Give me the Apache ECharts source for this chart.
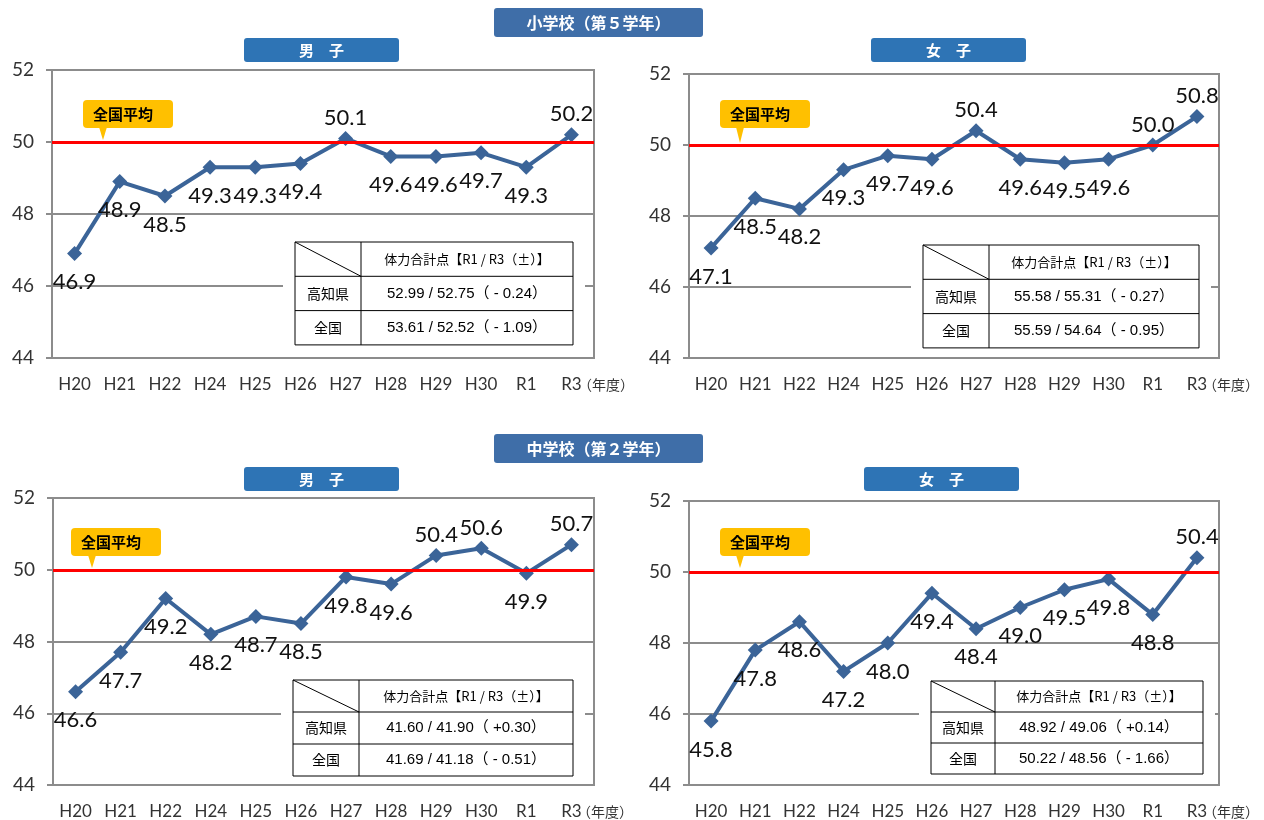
<!DOCTYPE html>
<html>
<head>
<meta charset="utf-8">
<script src="https://cdn.jsdelivr.net/npm/echarts@6/dist/echarts.min.js"></script>
<style>
html,body{margin:0;padding:0;background:#fff;}
#main{width:1264px;height:820px;}
</style>
</head>
<body>
<div id="main"></div>
<script>
// 年度
var years = ['H20', 'H21', 'H22', 'H24', 'H25', 'H26', 'H27', 'H28', 'H29', 'H30', 'R1', 'R3'];
// 体力合計点 T得点
var esBoys  = [46.9, 48.9, 48.5, 49.3, 49.3, 49.4, 50.1, 49.6, 49.6, 49.7, 49.3, 50.2];
var esGirls = [47.1, 48.5, 48.2, 49.3, 49.7, 49.6, 50.4, 49.6, 49.5, 49.6, 50.0, 50.8];
var jhBoys  = [46.6, 47.7, 49.2, 48.2, 48.7, 48.5, 49.8, 49.6, 50.4, 50.6, 49.9, 50.7];
var jhGirls = [45.8, 47.8, 48.6, 47.2, 48.0, 49.4, 48.4, 49.0, 49.5, 49.8, 48.8, 50.4];
var yMin = 44, yMax = 52, yStep = 2;
var nationalAvg = 50;

// 表
var tableHead = '体力合計点【R1 / R3（±）】';
var tableRows = ['高知県', '全国'];
var esBoysTable  = ['52.99 / 52.75（ - 0.24）', '53.61 / 52.52（ - 1.09）'];
var esGirlsTable = ['55.58 / 55.31（ - 0.27）', '55.59 / 54.64（ - 0.95）'];
var jhBoysTable  = ['41.60 / 41.90（ +0.30）', '41.69 / 41.18（ - 0.51）'];
var jhGirlsTable = ['48.92 / 49.06（ +0.14）', '50.22 / 48.56（ - 1.66）'];

var myChart = echarts.init(document.getElementById('main'));

var LINE = '#3B6498';
var GRAY = '#8c8c8c';
var FONT = 'Lato, "Noto Sans CJK JP", sans-serif';
var CJK = '"Noto Sans CJK JP", sans-serif';

//4つのパネル
var panels = [
	{ data: esBoys, grid: { left: 52, top: 70, width: 542, height: 288 },
	  table: { x: 295, y: 242, w1: 66, w2: 212, h: 34.3, vals: esBoysTable },
	  callout: { x: 83, y: 100, px: 103, tip: 140 }, unit: { x: 578, y: 385 } },
	{ data: esGirls, grid: { left: 689, top: 74, width: 530, height: 284 },
	  table: { x: 923, y: 245, w1: 66, w2: 210, h: 34.3, vals: esGirlsTable },
	  callout: { x: 720, y: 100, px: 740, tip: 143 }, unit: { x: 1203, y: 385 } },
	{ data: jhBoys, grid: { left: 53, top: 498, width: 541, height: 287 },
	  table: { x: 293, y: 680, w1: 66, w2: 214, h: 32, vals: jhBoysTable },
	  callout: { x: 71, y: 528, px: 92, tip: 568 }, unit: { x: 577, y: 812 } },
	{ data: jhGirls, grid: { left: 689, top: 501, width: 530, height: 284 },
	  table: { x: 931, y: 681, w1: 64, w2: 208, h: 31, vals: jhGirlsTable },
	  callout: { x: 720, y: 528, px: 740, tip: 568 }, unit: { x: 1203, y: 812 } }
];

var grids = [], xAxes = [], yAxes = [], series = [], graphics = [];

panels.forEach(function (p, i) {
	grids.push(Object.assign({ show: true, borderColor: GRAY, borderWidth: 2 }, p.grid));
	xAxes.push({
		type: 'category', gridIndex: i, data: years, boundaryGap: true,
		axisLine: { lineStyle: { color: GRAY, width: 2 } },
		axisTick: { length: 6, lineStyle: { color: GRAY, width: 2 } },
		axisLabel: { color: '#333', fontSize: 17, fontFamily: FONT, margin: 18, interval: 0 }
	});
	yAxes.push({
		type: 'value', gridIndex: i, min: yMin, max: yMax, interval: yStep,
		axisLine: { show: true, lineStyle: { color: GRAY, width: 2 } },
		axisTick: { show: true, length: 6, lineStyle: { color: GRAY, width: 2 } },
		axisLabel: { color: '#333', fontSize: 19, fontFamily: FONT, margin: 18 },
		splitLine: { lineStyle: { color: GRAY, width: 2 } }
	});
	series.push({
		type: 'line', xAxisIndex: i, yAxisIndex: i,
		data: p.data.map(function (v) {
			// 全国平均以上は上、未満は下
			return { value: v, label: { position: v >= nationalAvg ? 'top' : 'bottom', distance: v >= nationalAvg ? 2 : 10 } };
		}),
		symbol: 'diamond', symbolSize: 15,
		lineStyle: { color: LINE, width: 4 },
		itemStyle: { color: LINE },
		label: {
			show: true, fontSize: 22, color: '#111', fontFamily: FONT,
			formatter: function (o) { return o.value.toFixed(1); }
		},
		markLine: {
			silent: true, symbol: 'none', animation: false,
			label: { show: false },
			lineStyle: { color: '#ff0000', width: 3, type: 'solid' },
			data: [{ yAxis: nationalAvg }]
		},
		animation: false, z: 3
	});

	// 表
	var t = p.table, W = t.w1 + t.w2;
	graphics.push({ type: 'rect', shape: { x: t.x - 12, y: t.y - 4, width: W + 24, height: t.h * 3 + 8 }, style: { fill: '#fff' }, z: 50 });
	graphics.push({ type: 'rect', shape: { x: t.x, y: t.y, width: W, height: t.h * 3 }, style: { fill: '#fff', stroke: '#000', lineWidth: 1 }, z: 51 });
	graphics.push({ type: 'line', shape: { x1: t.x + t.w1, y1: t.y, x2: t.x + t.w1, y2: t.y + t.h * 3 }, style: { stroke: '#000', lineWidth: 1 }, z: 52 });
	graphics.push({ type: 'line', shape: { x1: t.x, y1: t.y + t.h, x2: t.x + W, y2: t.y + t.h }, style: { stroke: '#000', lineWidth: 1 }, z: 52 });
	graphics.push({ type: 'line', shape: { x1: t.x, y1: t.y + t.h * 2, x2: t.x + W, y2: t.y + t.h * 2 }, style: { stroke: '#000', lineWidth: 1 }, z: 52 });
	graphics.push({ type: 'line', shape: { x1: t.x, y1: t.y, x2: t.x + t.w1, y2: t.y + t.h }, style: { stroke: '#000', lineWidth: 1 }, z: 52 });
	graphics.push({ type: 'text', x: t.x + t.w1 + t.w2 / 2, y: t.y + t.h / 2, z: 53,
		style: { text: tableHead, textAlign: 'center', textVerticalAlign: 'middle', fontSize: 13, fontFamily: CJK, fill: '#000' } });
	for (var r = 0; r < 2; r++) {
		graphics.push({ type: 'text', x: t.x + t.w1 / 2, y: t.y + t.h * (r + 1.5), z: 53,
			style: { text: tableRows[r], textAlign: 'center', textVerticalAlign: 'middle', fontSize: 14, fontFamily: CJK, fill: '#000' } });
		graphics.push({ type: 'text', x: t.x + t.w1 + t.w2 / 2, y: t.y + t.h * (r + 1.5), z: 53,
			style: { text: t.vals[r], textAlign: 'center', textVerticalAlign: 'middle', fontSize: 15, fontFamily: '"Liberation Sans", "Noto Sans CJK JP", sans-serif', fill: '#000' } });
	}

	// 全国平均 吹き出し
	var c = p.callout;
	graphics.push({ type: 'rect', shape: { x: c.x, y: c.y, width: 90, height: 28, r: 4 }, style: { fill: '#FFC000' }, z: 40 });
	graphics.push({ type: 'polygon', shape: { points: [[c.px - 4, c.y + 27], [c.px + 4, c.y + 27], [c.px, c.tip]] }, style: { fill: '#FFC000' }, z: 40 });
	graphics.push({ type: 'text', x: c.x + 10, y: c.y + 14, z: 41,
		style: { text: '全国平均', textAlign: 'left', textVerticalAlign: 'middle', fontSize: 15, fontWeight: 'bold', fontFamily: CJK, fill: '#000' } });

	// 年度
	graphics.push({ type: 'text', x: p.unit.x, y: p.unit.y, z: 41,
		style: { text: '（年度）', textAlign: 'left', textVerticalAlign: 'middle', fontSize: 14, fontFamily: CJK, fill: '#333' } });
});

//見出し
function banner(x, y, w, h, text, color, size) {
	graphics.push({ type: 'rect', shape: { x: x, y: y, width: w, height: h, r: 3 }, style: { fill: color }, z: 60 });
	graphics.push({ type: 'text', x: x + w / 2, y: y + h / 2, z: 61,
		style: { text: text, textAlign: 'center', textVerticalAlign: 'middle', fontSize: size, fontWeight: 'bold', fontFamily: CJK, fill: '#fff' } });
}
banner(494, 8, 209, 29, '小学校（第５学年）', '#3F6EA8', 16);
banner(494, 434, 209, 29, '中学校（第２学年）', '#3F6EA8', 16);
banner(244, 38, 155, 24, '男　子', '#2E74B5', 15);
banner(871, 38, 155, 24, '女　子', '#2E74B5', 15);
banner(244, 467, 155, 24, '男　子', '#2E74B5', 15);
banner(864, 467, 155, 24, '女　子', '#2E74B5', 15);

var option = {
	backgroundColor: '#fff',
	animation: false,
	grid: grids,
	xAxis: xAxes,
	yAxis: yAxes,
	series: series,
	graphic: { elements: graphics }
};
myChart.setOption(option);
</script>
</body>
</html>
